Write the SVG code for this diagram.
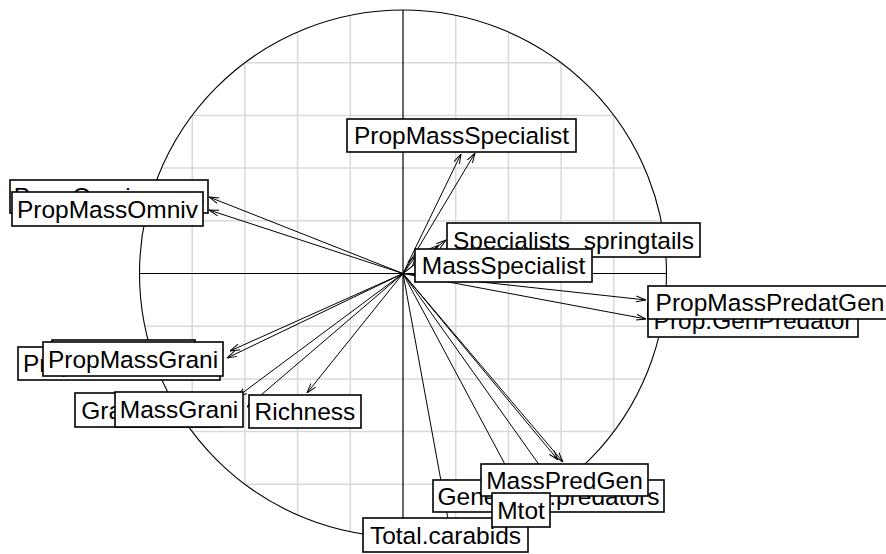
<svg xmlns="http://www.w3.org/2000/svg" width="886" height="554" viewBox="0 0 886 554">
  <style>
    .grid { stroke: #d9d9d9; stroke-width: 1.5; fill: none; }
    .axis { stroke: #000; stroke-width: 1.2; fill: none; }
    .circle { stroke: #000; stroke-width: 1.1; fill: none; }
    .arrow { stroke: #000; stroke-width: 1; fill: none; marker-end: url(#head); }
    .box { fill: #fff; stroke: #000; stroke-width: 1.6; }
    .lbl { font-family: "Liberation Sans", Arial, sans-serif; font-size: 24.5px; fill: #000; text-anchor: middle; }
  </style>
  <defs>
    <clipPath id="disc">
      <circle cx="403" cy="273.5" r="263.5"/>
    </clipPath>
    <marker id="head" viewBox="0 0 10 10" refX="10" refY="5" markerWidth="10" markerHeight="10" orient="auto" markerUnits="userSpaceOnUse">
      <path d="M0,2 L10,5 L0,8" fill="none" stroke="#000" stroke-width="1"/>
    </marker>
  </defs>

  <rect width="886" height="554" fill="#fff"/>

  <!-- grid inside the correlation circle -->
  <g id="grid" class="grid" clip-path="url(#disc)">
    <line x1="192.2" y1="0" x2="192.2" y2="554"/>
    <line x1="244.9" y1="0" x2="244.9" y2="554"/>
    <line x1="297.6" y1="0" x2="297.6" y2="554"/>
    <line x1="350.3" y1="0" x2="350.3" y2="554"/>
    <line x1="455.7" y1="0" x2="455.7" y2="554"/>
    <line x1="508.4" y1="0" x2="508.4" y2="554"/>
    <line x1="561.1" y1="0" x2="561.1" y2="554"/>
    <line x1="613.8" y1="0" x2="613.8" y2="554"/>
    <line x1="0" y1="62.7" x2="886" y2="62.7"/>
    <line x1="0" y1="115.4" x2="886" y2="115.4"/>
    <line x1="0" y1="168.1" x2="886" y2="168.1"/>
    <line x1="0" y1="220.8" x2="886" y2="220.8"/>
    <line x1="0" y1="326.2" x2="886" y2="326.2"/>
    <line x1="0" y1="378.9" x2="886" y2="378.9"/>
    <line x1="0" y1="431.6" x2="886" y2="431.6"/>
    <line x1="0" y1="484.3" x2="886" y2="484.3"/>
  </g>

  <!-- axes and unit circle -->
  <g id="frame">
    <line class="axis" x1="139.5" y1="273.5" x2="666.5" y2="273.5"/>
    <line class="axis" x1="403" y1="10" x2="403" y2="537"/>
    <circle class="circle" cx="403" cy="273.5" r="263.5"/>
  </g>

  <!-- variable arrows from the origin -->
  <g id="connectors">
    <line class="arrow" x1="403" y1="273.5" x2="461" y2="154"/>
    <line class="arrow" x1="403" y1="273.5" x2="475" y2="153"/>
    <line class="arrow" x1="403" y1="273.5" x2="209" y2="197"/>
    <line class="arrow" x1="403" y1="273.5" x2="209" y2="210"/>
    <line class="arrow" x1="403" y1="273.5" x2="446" y2="240"/>
    <line class="arrow" x1="403" y1="273.5" x2="439" y2="245"/>
    <line class="arrow" x1="403" y1="273.5" x2="416" y2="256"/>
    <line class="arrow" x1="403" y1="273.5" x2="646" y2="300"/>
    <line class="arrow" x1="403" y1="273.5" x2="646" y2="319"/>
    <line class="arrow" x1="403" y1="273.5" x2="230" y2="351"/>
    <line class="arrow" x1="403" y1="273.5" x2="227" y2="358"/>
    <line class="arrow" x1="403" y1="273.5" x2="237" y2="397"/>
    <line class="arrow" x1="403" y1="273.5" x2="247" y2="407"/>
    <line class="arrow" x1="403" y1="273.5" x2="307" y2="393"/>
    <line class="arrow" x1="403" y1="273.5" x2="450" y2="530"/>
    <line class="arrow" x1="403" y1="273.5" x2="524" y2="500"/>
    <line class="arrow" x1="403" y1="273.5" x2="550" y2="480"/>
    <line class="arrow" x1="403" y1="273.5" x2="563" y2="462"/>
    <line class="arrow" x1="403" y1="273.5" x2="558" y2="460"/>
  </g>

  <!-- labels -->
  <g id="prop-omnivorous">
    <rect class="box" x="10" y="180" width="198" height="33"/>
    <text class="lbl" x="109" y="205.2">Prop.Omnivorous</text>
  </g>
  <g id="propmassomniv">
    <rect class="box" x="12" y="192" width="191" height="34"/>
    <text class="lbl" x="107.5" y="217.7">PropMassOmniv</text>
  </g>
  <g id="propmassspecialist">
    <rect class="box" x="347" y="119" width="229" height="33"/>
    <text class="lbl" x="461.5" y="144.2">PropMassSpecialist</text>
  </g>
  <g id="specialists-springtails">
    <rect class="box" x="447" y="223" width="253" height="34"/>
    <text class="lbl" x="573.5" y="248.7">Specialists_springtails</text>
  </g>
  <g id="massspecialist">
    <rect class="box" x="415" y="249" width="177" height="33"/>
    <text class="lbl" x="503.5" y="274.2">MassSpecialist</text>
  </g>
  <g id="prop-genpredator">
    <rect class="box" x="648" y="304" width="210" height="33"/>
    <text class="lbl" x="753" y="329.2">Prop.GenPredator</text>
  </g>
  <g id="propmasspredatgen">
    <rect class="box" x="648" y="286" width="246" height="33"/>
    <text class="lbl" x="770" y="311.2">PropMassPredatGen</text>
  </g>
  <g id="grani-back">
    <rect class="box" x="52" y="340" width="143" height="30"/>
  </g>
  <g id="prop-granivorous">
    <rect class="box" x="18" y="347" width="202" height="33"/>
    <text class="lbl" x="119" y="372.2">Prop.Granivorous</text>
  </g>
  <g id="propmassgrani">
    <rect class="box" x="43" y="342" width="180" height="34"/>
    <text class="lbl" x="133" y="367.7">PropMassGrani</text>
  </g>
  <g id="granivorous">
    <rect class="box" x="75" y="393" width="146" height="34"/>
    <text class="lbl" x="148" y="418.7">Granivorous</text>
  </g>
  <g id="massgrani">
    <rect class="box" x="115" y="392" width="128" height="35"/>
    <text class="lbl" x="179" y="418.2">MassGrani</text>
  </g>
  <g id="richness">
    <rect class="box" x="249" y="395" width="112" height="33"/>
    <text class="lbl" x="305" y="420.2">Richness</text>
  </g>
  <g id="generalist-predators">
    <rect class="box" x="433" y="480" width="231" height="32"/>
    <text class="lbl" x="548.5" y="504.7">Generalist.predators</text>
  </g>
  <g id="masspredgen">
    <rect class="box" x="481" y="464" width="167" height="32"/>
    <text class="lbl" x="564.5" y="488.7">MassPredGen</text>
  </g>
  <g id="total-carabids">
    <rect class="box" x="363" y="518" width="165" height="34"/>
    <text class="lbl" x="445.5" y="543.7">Total.carabids</text>
  </g>
  <g id="mtot">
    <rect class="box" x="492" y="493" width="58" height="34"/>
    <text class="lbl" x="521" y="518.7">Mtot</text>
  </g>
</svg>
